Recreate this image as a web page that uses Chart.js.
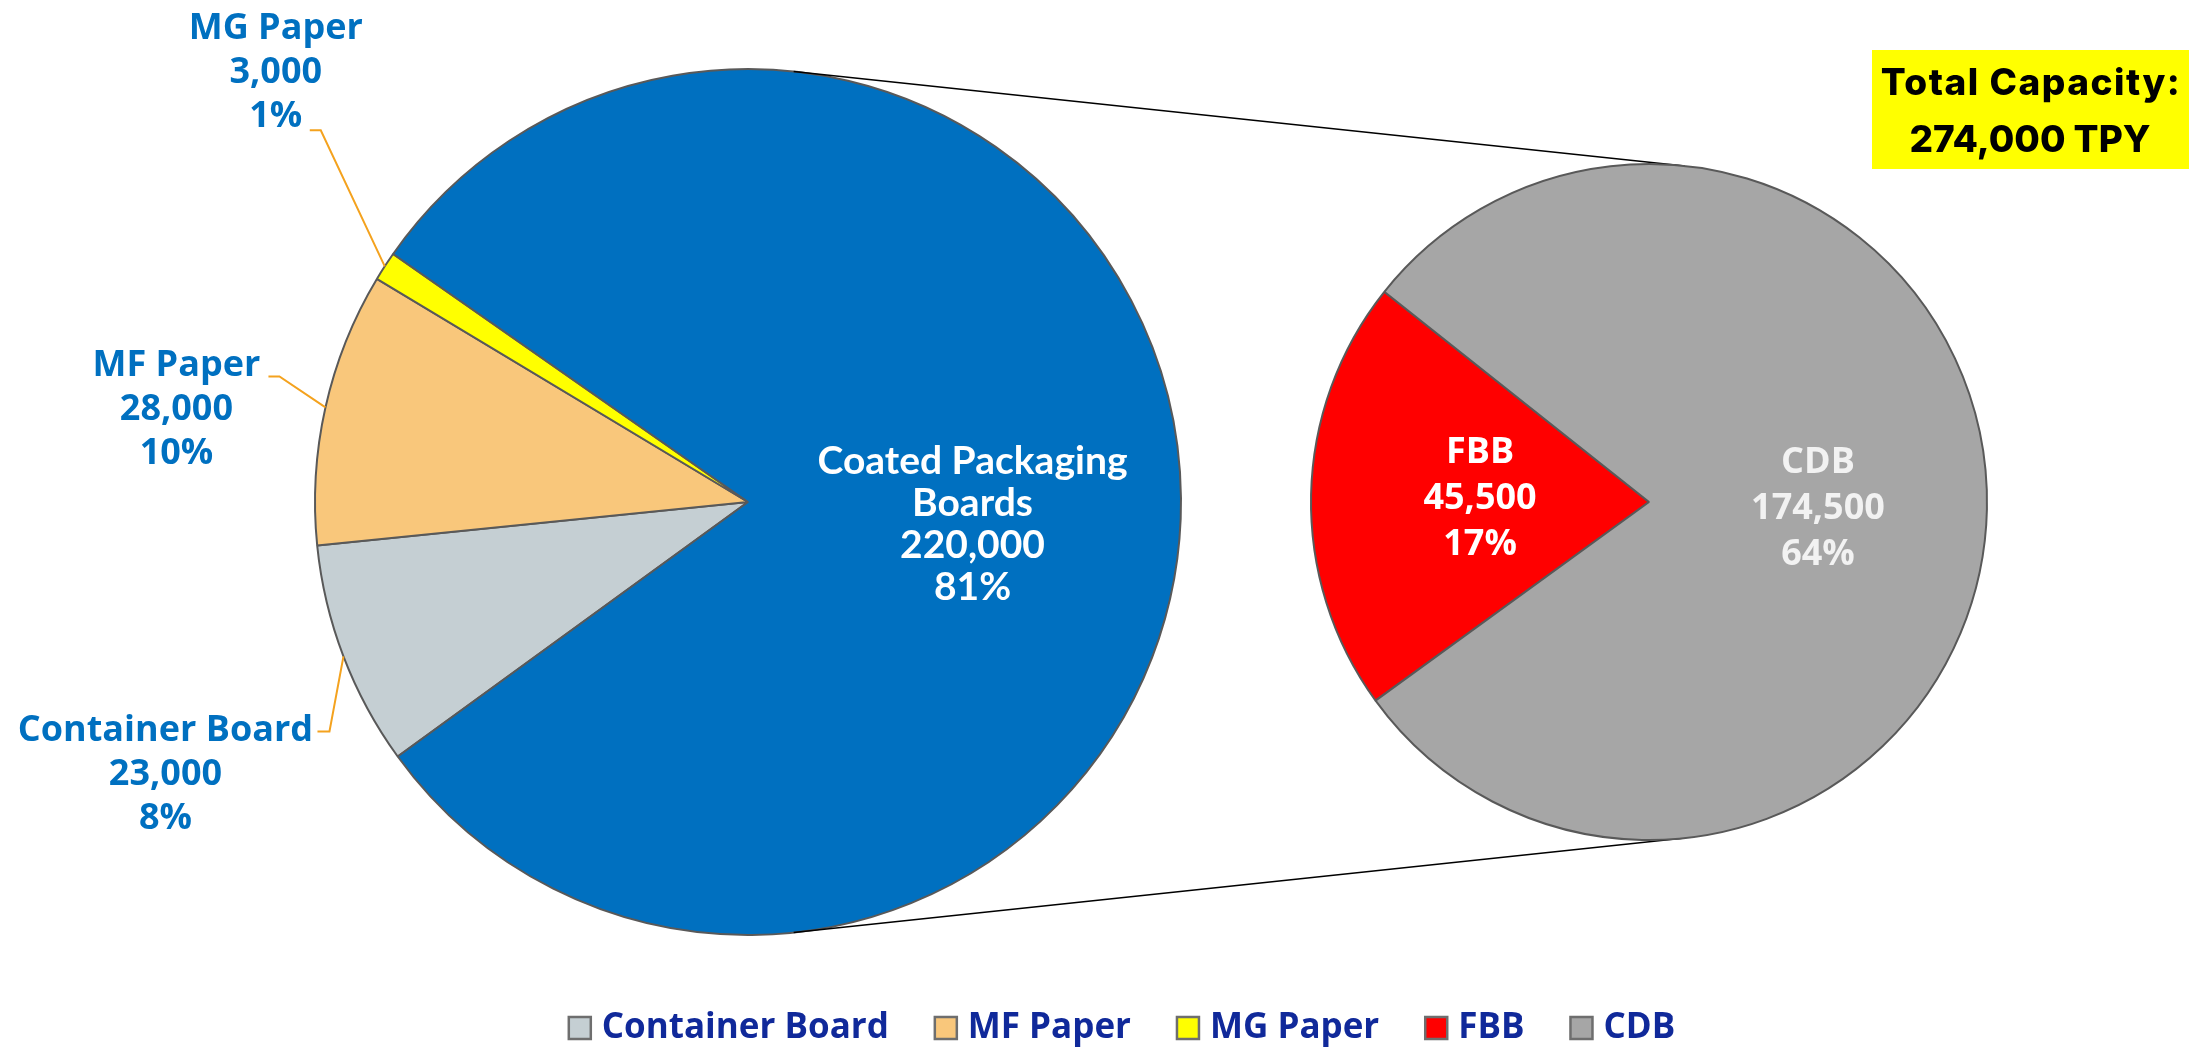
<!DOCTYPE html>
<html lang="en">
<head>
<meta charset="UTF-8">
<title>Paper and Board Capacity</title>
<script src="https://cdn.jsdelivr.net/npm/chart.js"></script>
<style>
  * { box-sizing: border-box; }
  body { margin: 0; background: #fff; overflow: hidden; }
  .stage { position: relative; width: 2203px; height: 1047px; }
  .stage canvas { position: absolute; left: 0; top: 0; }
</style>
</head>
<body>
<div class="stage">
  <canvas id="mainPie" width="2203" height="1047"></canvas>
  <canvas id="subPie" width="2203" height="1047"></canvas>
</div>
<script>
// main pie - capacity by grade, TPY
const mainLabels = ['Container Board', 'MF Paper', 'MG Paper', 'Coated Packaging Boards'];
const mainValues = [23000, 28000, 3000, 220000];
const mainPercents = ['8%', '10%', '1%', '81%'];

// second pie - the coated boards split
const subLabels = ['FBB', 'CDB'];
const subValues = [45500, 174500];
const subPercents = ['17%', '64%'];

// the main slice that is broken out into the second pie
const splitCategory = 'Coated Packaging Boards';
const totalLines = ['Total Capacity:', '274,000 TPY'];

const mainColors = ['#C5CFD3', '#F9C77B', '#FFFF00', '#0070C0'];
const subColors = ['#FF0000', '#A6A6A6'];

// label placement, offsets from the slice anchor
const mainLabelLayout = [
  { outside: true, elbow: [-14, 75], end: [-26, 75], text: [-178, 118] },
  { outside: true, elbow: [-46, -31], end: [-57, -31], text: [-149, 2] },
  { outside: true, elbow: [-64, -136], end: [-75, -136], text: [-109, -194] },
  { outside: false, text: [8, 24], wrap: ['Coated Packaging', 'Boards'] }
];
const subLabelLayout = [
  { outside: false, text: [0, 0] },
  { outside: false, text: [0, 3] }
];

function fmt(v) {
  return v.toLocaleString('en-US');
}

const sliceLabels = {
  id: 'sliceLabels',
  afterDatasetsDraw(chart, args, opts) {
    const ctx = chart.ctx;
    const meta = chart.getDatasetMeta(0);
    const values = chart.data.datasets[0].data;
    meta.data.forEach((arc, i) => {
      const lay = opts.layout[i];
      const name = lay.wrap ? lay.wrap : [chart.data.labels[i]];
      const lines = [...name, fmt(values[i]), opts.percents[i]];
      let x, y, font, color, lh;
      if (lay.outside) {
        const mid = (arc.startAngle + arc.endAngle) / 2;
        const ex = arc.x + Math.cos(mid) * arc.outerRadius;
        const ey = arc.y + Math.sin(mid) * arc.outerRadius;
        ctx.save();
        ctx.strokeStyle = opts.leaderColor;
        ctx.lineWidth = 2;
        ctx.beginPath();
        ctx.moveTo(ex, ey);
        ctx.lineTo(ex + lay.elbow[0], ey + lay.elbow[1]);
        ctx.lineTo(ex + lay.end[0], ey + lay.end[1]);
        ctx.stroke();
        ctx.restore();
        x = ex + lay.text[0];
        y = ey + lay.text[1];
        font = opts.outsideFont;
        color = opts.outsideColor;
        lh = opts.lineHeight;
      } else {
        const p = arc.getCenterPoint();
        x = p.x + lay.text[0];
        y = p.y + lay.text[1];
        font = lay.wrap ? opts.wrapFont : opts.insideFont;
        color = opts.insideColors[i];
        lh = lay.wrap ? opts.wrapLineHeight : opts.lineHeight;
      }
      ctx.save();
      ctx.font = font;
      ctx.fillStyle = color;
      ctx.textAlign = 'center';
      ctx.textBaseline = 'middle';
      lines.forEach((t, k) => {
        ctx.fillText(t, x, y + (k - (lines.length - 1) / 2) * lh);
      });
      ctx.restore();
    });
  }
};

const mainChart = new Chart(document.getElementById('mainPie'), {
  type: 'pie',
  data: {
    labels: mainLabels,
    datasets: [{
      data: mainValues,
      backgroundColor: mainColors,
      borderColor: '#595959',
      borderWidth: 2
    }]
  },
  options: {
    responsive: false,
    animation: false,
    rotation: 234,
    radius: 433,
    layout: { padding: { left: 0, right: 707, top: 0, bottom: 43 } },
    plugins: {
      legend: { display: false },
      tooltip: { enabled: false },
      sliceLabels: {
        layout: mainLabelLayout,
        percents: mainPercents,
        leaderColor: '#F4A21E',
        outsideFont: '700 36px "Open Sans"',
        outsideColor: '#0070C0',
        insideFont: '700 36px "Open Sans"',
        wrapFont: '700 39px Lato',
        insideColors: ['#fff', '#fff', '#fff', '#FFFFFF'],
        lineHeight: 44,
        wrapLineHeight: 42
      }
    }
  },
  plugins: [sliceLabels]
});

// lines joining the two pies, legend and the total box
const pieExtras = {
  id: 'pieExtras',
  beforeDatasetsDraw(chart, args, opts) {
    const a = opts.source.getDatasetMeta(0).data[0];
    const b = chart.getDatasetMeta(0).data[0];
    const d = Math.hypot(b.x - a.x, b.y - a.y);
    const phi = Math.atan2(b.y - a.y, b.x - a.x);
    const alpha = Math.acos((a.outerRadius - b.outerRadius) / d);
    const ctx = chart.ctx;
    ctx.save();
    ctx.strokeStyle = '#000';
    ctx.lineWidth = 1.5;
    [phi - alpha, phi + alpha].forEach(t => {
      ctx.beginPath();
      ctx.moveTo(a.x + Math.cos(t) * a.outerRadius, a.y + Math.sin(t) * a.outerRadius);
      ctx.lineTo(b.x + Math.cos(t) * b.outerRadius, b.y + Math.sin(t) * b.outerRadius);
      ctx.stroke();
    });
    ctx.restore();
  },
  afterDraw(chart, args, opts) {
    const ctx = chart.ctx;
    const src = opts.source;
    const items = [];
    src.data.labels.forEach((l, i) => {
      if (l !== splitCategory) items.push({ text: l, color: src.data.datasets[0].backgroundColor[i] });
    });
    chart.data.labels.forEach((l, i) => {
      items.push({ text: l, color: chart.data.datasets[0].backgroundColor[i] });
    });

    // legend
    ctx.save();
    ctx.font = '700 35px "Open Sans"';
    const box = 22, gap = 11, itemGap = 46;
    let total = 0;
    items.forEach((it, i) => {
      it.w = ctx.measureText(it.text).width;
      total += box + gap + it.w + (i ? itemGap : 0);
    });
    let x = 1122 - total / 2;
    items.forEach(it => {
      ctx.fillStyle = it.color;
      ctx.fillRect(x, 1017, box, box);
      ctx.strokeStyle = '#6E6E6E';
      ctx.lineWidth = 2.5;
      ctx.strokeRect(x, 1017, box, box);
      ctx.fillStyle = '#10299A';
      ctx.textBaseline = 'alphabetic';
      ctx.textAlign = 'left';
      ctx.fillText(it.text, x + box + gap, 1038);
      x += box + gap + it.w + itemGap;
    });
    ctx.restore();

    // total capacity box
    ctx.save();
    ctx.fillStyle = '#FFFF00';
    ctx.fillRect(1872, 50, 317, 119);
    ctx.fillStyle = '#000';
    ctx.font = '800 37px Inter';
    ctx.textAlign = 'center';
    ctx.textBaseline = 'alphabetic';
    ctx.letterSpacing = '1.5px';
    ctx.fillText(totalLines[0], 2031, 95);
    ctx.letterSpacing = '0px';
    ctx.fillText(totalLines[1], 2030, 152);
    ctx.restore();
  }
};

const subChart = new Chart(document.getElementById('subPie'), {
  type: 'pie',
  data: {
    labels: subLabels,
    datasets: [{
      data: subValues,
      backgroundColor: subColors,
      borderColor: '#595959',
      borderWidth: 2
    }]
  },
  options: {
    responsive: false,
    animation: false,
    rotation: 234,
    radius: 338,
    layout: { padding: { left: 1095, right: 0, top: 0, bottom: 43 } },
    plugins: {
      legend: { display: false },
      tooltip: { enabled: false },
      sliceLabels: {
        layout: subLabelLayout,
        percents: subPercents,
        insideFont: '700 36px "Open Sans"',
        insideColors: ['#FFFFFF', '#F2F2F2'],
        lineHeight: 46
      },
      pieExtras: { source: mainChart }
    }
  },
  plugins: [sliceLabels, pieExtras]
});
</script>
</body>
</html>
